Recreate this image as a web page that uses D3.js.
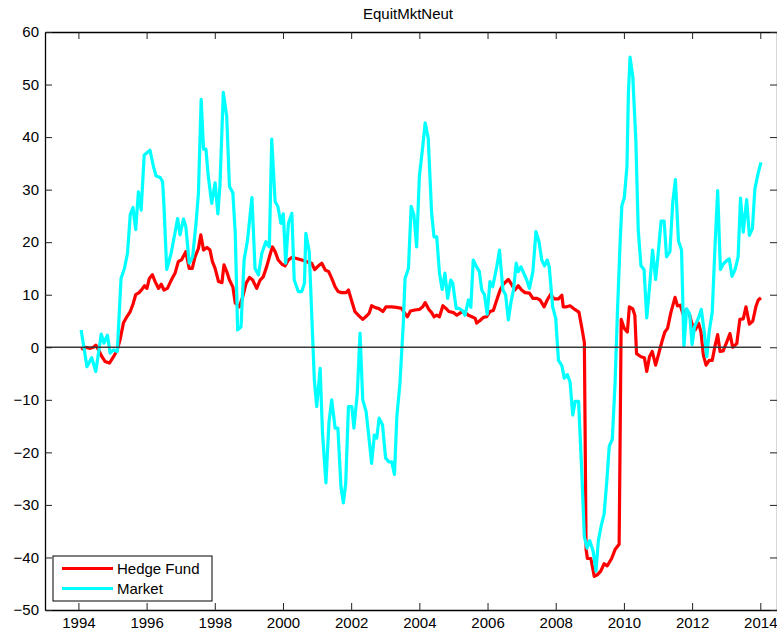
<!DOCTYPE html>
<html>
<head>
<meta charset="utf-8">
<script src="https://cdn.jsdelivr.net/npm/d3@7"></script>
<style>
  html, body { margin: 0; padding: 0; background: #fff; }
  svg { display: block; font-family: "Liberation Sans", Arial, sans-serif; }
</style>
</head>
<body>
<svg id="chart" width="777" height="636"></svg>
<script>
const chartTitle = "EquitMktNeut";
const seriesNames = ["Hedge Fund", "Market"];
const xTickValues = [1994, 1996, 1998, 2000, 2002, 2004, 2006, 2008, 2010, 2012, 2014];
const yTickValues = [-50, -40, -30, -20, -10, 0, 10, 20, 30, 40, 50, 60];

const hedgeDates = [1994.08,1994.20,1994.35,1994.44,1994.51,1994.59,1994.69,1994.78,1994.91,1995.03,1995.14,1995.22,1995.32,1995.42,1995.52,1995.60,1995.68,1995.78,1995.86,1995.94,1996.01,1996.08,1996.17,1996.25,1996.35,1996.43,1996.51,1996.61,1996.71,1996.84,1996.93,1997.03,1997.15,1997.25,1997.34,1997.42,1997.52,1997.59,1997.67,1997.77,1997.86,1997.93,1998.01,1998.11,1998.21,1998.27,1998.35,1998.43,1998.53,1998.60,1998.72,1998.82,1998.92,1999.02,1999.11,1999.23,1999.33,1999.42,1999.52,1999.62,1999.69,1999.77,1999.86,1999.97,2000.06,2000.16,2000.26,2000.40,2000.55,2000.69,2000.84,2000.93,2001.04,2001.14,2001.24,2001.34,2001.43,2001.53,2001.62,2001.72,2001.85,2001.92,2002.02,2002.11,2002.21,2002.34,2002.46,2002.53,2002.60,2002.73,2002.80,2002.93,2003.02,2003.19,2003.33,2003.48,2003.56,2003.65,2003.74,2003.87,2004.00,2004.10,2004.17,2004.28,2004.36,2004.43,2004.51,2004.59,2004.69,2004.78,2004.87,2005.00,2005.10,2005.19,2005.31,2005.44,2005.54,2005.64,2005.68,2005.78,2005.88,2005.97,2006.07,2006.17,2006.27,2006.37,2006.46,2006.61,2006.71,2006.80,2006.90,2007.00,2007.10,2007.23,2007.33,2007.45,2007.54,2007.66,2007.75,2007.85,2007.95,2008.08,2008.18,2008.22,2008.32,2008.42,2008.56,2008.68,2008.76,2008.84,2008.89,2008.93,2009.03,2009.13,2009.22,2009.32,2009.42,2009.51,2009.64,2009.74,2009.86,2009.92,2010.01,2010.10,2010.16,2010.26,2010.32,2010.37,2010.50,2010.60,2010.67,2010.75,2010.83,2010.93,2011.03,2011.12,2011.20,2011.28,2011.38,2011.50,2011.57,2011.65,2011.75,2011.83,2011.92,2011.99,2012.09,2012.19,2012.26,2012.33,2012.41,2012.50,2012.59,2012.67,2012.75,2012.82,2012.91,2013.01,2013.11,2013.19,2013.31,2013.40,2013.50,2013.58,2013.68,2013.78,2013.87,2013.94,2014.02];
const hedgeValues = [-0.4,0.0,-0.2,0.0,0.4,-0.5,-1.8,-2.7,-3.0,-1.8,-0.5,1.4,4.6,5.8,6.8,8.2,10.0,10.4,11.0,11.7,11.2,13.1,13.8,12.5,11.2,12.0,10.9,11.2,12.6,14.2,16.3,16.7,18.2,15.0,15.0,17.2,18.8,21.4,18.5,19.0,18.5,16.3,15.0,12.5,12.3,15.7,14.4,12.8,11.5,8.4,7.7,9.6,12.2,13.3,12.8,11.2,12.8,13.4,15.3,17.6,19.1,18.2,16.6,15.8,15.5,16.6,17.1,16.9,16.6,16.3,16.0,14.8,15.5,16.0,14.7,14.4,13.1,11.5,10.6,10.4,10.4,10.9,8.7,6.8,6.1,5.3,6.0,6.5,7.9,7.5,7.4,6.8,7.7,7.7,7.6,7.4,6.6,5.8,6.9,7.1,7.2,7.7,8.5,7.2,6.6,5.8,6.1,5.8,7.9,7.4,6.8,6.6,6.1,6.5,6.8,6.1,5.8,5.5,4.6,5.1,5.7,5.8,6.8,7.0,9.0,10.9,12.0,12.9,11.9,10.9,11.7,10.9,10.4,10.3,9.3,9.3,9.0,7.7,9.0,10.1,9.2,9.2,9.9,7.7,7.7,7.9,7.2,6.7,3.9,0.9,-38.5,-40.2,-40.2,-43.6,-43.3,-42.6,-41.2,-41.6,-40.2,-38.5,-37.5,5.3,3.6,2.9,7.7,7.3,6.1,-1.2,-1.8,-2.0,-4.6,-1.8,-0.8,-3.4,-1.0,1.2,2.9,3.6,6.7,9.5,7.9,8.0,6.0,7.2,6.3,4.6,3.3,4.6,2.9,-1.5,-3.4,-2.5,-2.5,0.2,2.4,-0.8,-0.7,0.9,2.6,0.0,0.7,5.3,5.4,7.7,4.4,5.0,7.7,9.0,9.4];

const marketDates = [1994.08,1994.25,1994.39,1994.51,1994.67,1994.75,1994.85,1994.93,1995.03,1995.14,1995.25,1995.35,1995.44,1995.52,1995.60,1995.68,1995.76,1995.84,1995.93,1996.10,1996.20,1996.28,1996.40,1996.47,1996.51,1996.59,1996.72,1996.83,1996.91,1996.98,1997.08,1997.15,1997.25,1997.35,1997.45,1997.52,1997.60,1997.67,1997.74,1997.81,1997.91,1998.01,1998.09,1998.15,1998.25,1998.35,1998.43,1998.53,1998.60,1998.67,1998.77,1998.86,1998.96,1999.09,1999.18,1999.28,1999.38,1999.50,1999.60,1999.67,1999.77,1999.85,1999.94,2000.01,2000.08,2000.16,2000.26,2000.33,2000.45,2000.55,2000.63,2000.67,2000.77,2000.92,2000.99,2001.09,2001.16,2001.26,2001.35,2001.43,2001.53,2001.61,2001.70,2001.77,2001.84,2001.92,2002.02,2002.08,2002.18,2002.26,2002.34,2002.44,2002.60,2002.68,2002.75,2002.82,2002.92,2003.01,2003.11,2003.19,2003.27,2003.34,2003.43,2003.53,2003.58,2003.68,2003.76,2003.84,2003.92,2004.00,2004.10,2004.17,2004.26,2004.36,2004.43,2004.51,2004.59,2004.67,2004.75,2004.83,2004.92,2004.98,2005.08,2005.16,2005.26,2005.34,2005.44,2005.51,2005.58,2005.68,2005.76,2005.83,2005.91,2005.99,2006.07,2006.15,2006.27,2006.35,2006.45,2006.53,2006.61,2006.69,2006.76,2006.84,2006.90,2006.98,2007.15,2007.23,2007.33,2007.42,2007.51,2007.59,2007.67,2007.75,2007.81,2007.91,2008.00,2008.08,2008.18,2008.25,2008.34,2008.42,2008.50,2008.57,2008.67,2008.76,2008.84,2008.92,2009.00,2009.10,2009.18,2009.25,2009.33,2009.42,2009.50,2009.57,2009.66,2009.74,2009.81,2009.89,2009.94,2010.01,2010.09,2010.13,2010.18,2010.26,2010.35,2010.42,2010.50,2010.59,2010.67,2010.76,2010.84,2010.93,2011.00,2011.09,2011.18,2011.25,2011.35,2011.43,2011.51,2011.60,2011.69,2011.76,2011.84,2011.93,2012.00,2012.07,2012.17,2012.27,2012.35,2012.43,2012.50,2012.59,2012.67,2012.75,2012.83,2012.91,2013.01,2013.09,2013.17,2013.26,2013.35,2013.42,2013.50,2013.60,2013.68,2013.77,2013.84,2013.94,2014.02];
const marketValues = [3.3,-3.7,-2.0,-4.6,2.5,0.8,2.3,-1.1,-0.5,-0.8,13.1,15.0,17.9,25.2,26.6,22.4,29.6,26.1,36.6,37.5,34.4,32.6,32.3,31.5,26.8,14.8,17.9,21.7,24.5,21.4,24.4,23.0,16.0,17.2,23.6,29.3,47.2,37.7,37.7,32.5,27.4,31.3,25.4,30.6,48.5,43.9,30.6,29.4,21.7,3.3,3.9,16.6,20.4,28.5,15.0,13.8,17.9,20.1,19.1,39.6,27.7,26.8,23.6,25.4,16.0,23.6,25.5,12.8,10.6,10.6,12.2,21.7,18.2,-6.2,-11.3,-4.0,-16.4,-25.8,-14.2,-10.0,-15.4,-15.4,-26.5,-29.6,-25.9,-11.3,-11.3,-15.4,-8.8,2.7,-10.0,-12.3,-22.1,-16.7,-17.3,-13.5,-14.8,-21.1,-21.8,-21.8,-24.2,-13.2,-6.9,4.6,13.1,15.0,26.8,25.2,19.1,32.5,38.2,42.7,39.8,25.5,21.0,21.0,14.1,11.0,14.1,9.3,12.8,12.2,7.4,7.4,7.0,6.1,9.0,7.6,16.6,15.3,14.4,10.9,10.0,6.3,12.5,11.5,15.3,18.5,10.9,10.0,5.2,8.7,10.9,16.0,14.4,15.3,12.8,11.2,14.4,22.0,20.1,16.6,15.5,16.6,15.3,7.7,5.5,-2.5,-3.5,-5.9,-5.2,-6.6,-12.9,-10.3,-10.3,-23.2,-36.1,-38.2,-36.8,-38.9,-42.6,-36.8,-34.1,-31.7,-25.3,-18.8,-17.5,-6.9,6.7,20.2,27.0,28.4,34.5,48.1,55.2,51.5,39.3,22.3,15.5,14.8,5.6,12.1,18.5,12.9,17.5,24.0,24.0,17.2,18.2,27.4,31.9,20.2,18.5,0.2,7.3,6.3,0.5,3.9,5.3,7.2,3.3,-1.8,2.9,6.7,18.9,29.8,14.8,15.8,16.5,16.8,13.5,14.8,17.2,28.4,21.9,28.1,21.3,22.6,30.1,33.2,35.2];

const seriesColors = ["#ff0000", "#00ffff"];

const svg = d3.select("#chart");
const plotLeft = 45, plotRight = 777, plotTop = 32, plotBottom = 610;

const x = d3.scaleLinear().domain([1993.02, 2014.49]).range([plotLeft, plotRight]);
const y = d3.scaleLinear().domain([-50, 60]).range([plotBottom, plotTop]);

const line = d3.line().x(d => x(d[0])).y(d => y(d[1]));

const hedge = hedgeDates.map((d, i) => [d, hedgeValues[i]]);
const market = marketDates.map((d, i) => [d, marketValues[i]]);

// title
svg.append("text")
  .attr("x", 408)
  .attr("y", 19)
  .attr("text-anchor", "middle")
  .style("font-size", "15px")
  .text(chartTitle);

// data lines
svg.append("path").datum(hedge)
  .attr("d", line).attr("fill", "none")
  .attr("stroke", seriesColors[0]).attr("stroke-width", 3.2)
  .attr("stroke-linejoin", "round");
svg.append("path").datum(market)
  .attr("d", line).attr("fill", "none")
  .attr("stroke", seriesColors[1]).attr("stroke-width", 3.2)
  .attr("stroke-linejoin", "round");

// zero line
svg.append("line")
  .attr("x1", x.range()[0]).attr("x2", x(hedgeDates[hedgeDates.length - 1]))
  .attr("y1", y(0)).attr("y2", y(0))
  .attr("stroke", "#3a3a3a").attr("stroke-width", 1.3);

// axes
const fontSize = "15px";
const gB = svg.append("g").attr("transform", `translate(0,${plotBottom})`)
  .call(d3.axisBottom(x).tickValues(xTickValues).tickFormat(d3.format("d")).tickSizeInner(-7).tickSizeOuter(0).tickPadding(7.5));
const gT = svg.append("g").attr("transform", `translate(0,${plotTop})`)
  .call(d3.axisTop(x).tickValues(xTickValues).tickFormat("").tickSizeInner(-7).tickSizeOuter(0));
const gL = svg.append("g").attr("transform", `translate(${plotLeft},0)`)
  .call(d3.axisLeft(y).tickValues(yTickValues).tickFormat(d3.format("d")).tickSizeInner(-7).tickSizeOuter(0).tickPadding(6));
const gR = svg.append("g").attr("transform", `translate(${plotRight},0)`)
  .call(d3.axisRight(y).tickValues(yTickValues).tickFormat("").tickSizeInner(-7).tickSizeOuter(0));

[gB, gT, gL, gR].forEach(g => {
  g.selectAll(".domain").attr("stroke", "#000").attr("stroke-width", 1.3);
  g.selectAll(".tick line").attr("stroke", "#222").attr("stroke-width", 1);
  g.selectAll("text").attr("fill", "#000").style("font-size", fontSize)
    .style("font-family", '"Liberation Sans", Arial, sans-serif');
});

// legend
const lg = svg.append("g");
lg.append("rect")
  .attr("x", 53).attr("y", 556).attr("width", 159).attr("height", 45)
  .attr("fill", "#fff").attr("stroke", "#000").attr("stroke-width", 1);
seriesNames.forEach((name, i) => {
  const ly = 568.5 + i * 20;
  lg.append("line").attr("x1", 62).attr("x2", 113).attr("y1", ly).attr("y2", ly)
    .attr("stroke", seriesColors[i]).attr("stroke-width", 3.2);
  lg.append("text").attr("x", 117).attr("y", ly + 5.5)
    .style("font-size", "15px").text(name);
});
</script>
</body>
</html>
